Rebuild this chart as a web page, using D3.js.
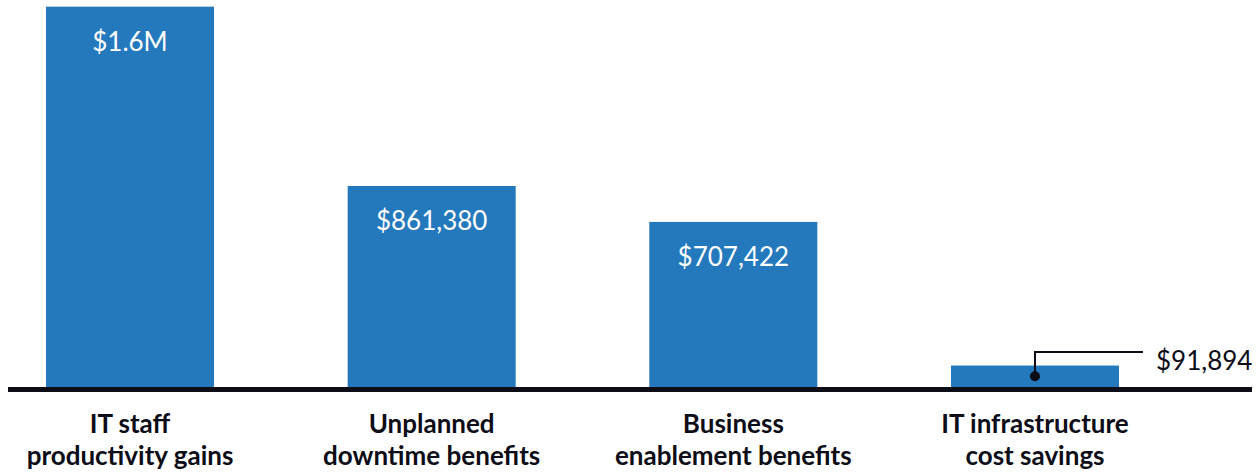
<!DOCTYPE html>
<html><head><meta charset="utf-8">
<script src="https://cdn.jsdelivr.net/npm/d3@7"></script>
<style>body{margin:0;background:#fff}svg{display:block}</style>
</head><body>
<svg id="c" width="1256" height="474"></svg>
<script>
const categories = [["IT staff","productivity gains"],["Unplanned","downtime benefits"],["Business","enablement benefits"],["IT infrastructure","cost savings"]];
const values = [1630000, 861380, 707422, 91894];
const valueLabels = ["$1.6M", "$861,380", "$707,422", "$91,894"];

const svg = d3.select("#c");
const blue = "#2479bd", dark = "#0d0d17";
const x = d3.scaleBand().domain(d3.range(categories.length)).range([46, 1119]).paddingInner(0.443).paddingOuter(0);
const y = d3.scaleLinear().domain([0, 861380]).range([387, 186]);

svg.selectAll("rect.bar").data(values).join("rect").attr("class","bar")
  .attr("x",(d,i)=>x(i)).attr("width",x.bandwidth())
  .attr("y",d=>y(d)).attr("height",d=>y(0)-y(d)).attr("fill",blue);

// inside labels (all but last)
svg.selectAll("text.val").data(values.slice(0,3)).join("text").attr("class","val")
  .attr("x",(d,i)=>x(i)+x.bandwidth()/2).attr("y",d=>y(d)+44)
  .attr("text-anchor","middle").attr("fill","#fff")
  .attr("font-family","Lato, sans-serif").attr("font-size",26)
  .text((d,i)=>valueLabels[i]);

// callout for last bar
const li = values.length-1;
const cx = x(li)+x.bandwidth()/2, cy = (y(values[li])+y(0))/2;
svg.append("path").attr("d",`M${cx},${cy}V352H1143`).attr("fill","none").attr("stroke",dark).attr("stroke-width",2);
svg.append("circle").attr("cx",cx).attr("cy",cy).attr("r",5).attr("fill",dark);
svg.append("text").attr("x",1156).attr("y",370).attr("fill",dark)
  .attr("font-family","Lato, sans-serif").attr("font-size",26).text(valueLabels[li]);

// baseline
svg.append("line").attr("x1",8).attr("x2",1252).attr("y1",y(0)+2.5).attr("y2",y(0)+2.5)
  .attr("stroke",dark).attr("stroke-width",5);

// category labels
const cl = svg.selectAll("text.cat").data(categories).join("text").attr("class","cat")
  .attr("text-anchor","middle").attr("fill",dark)
  .attr("font-family","Lato, sans-serif").attr("font-weight","bold").attr("font-size",26);
cl.each(function(d,i){
  const t = d3.select(this);
  d.forEach((line,j)=>t.append("tspan").attr("x",x(i)+x.bandwidth()/2).attr("y",433+j*32).text(line));
});
</script>
</body></html>
